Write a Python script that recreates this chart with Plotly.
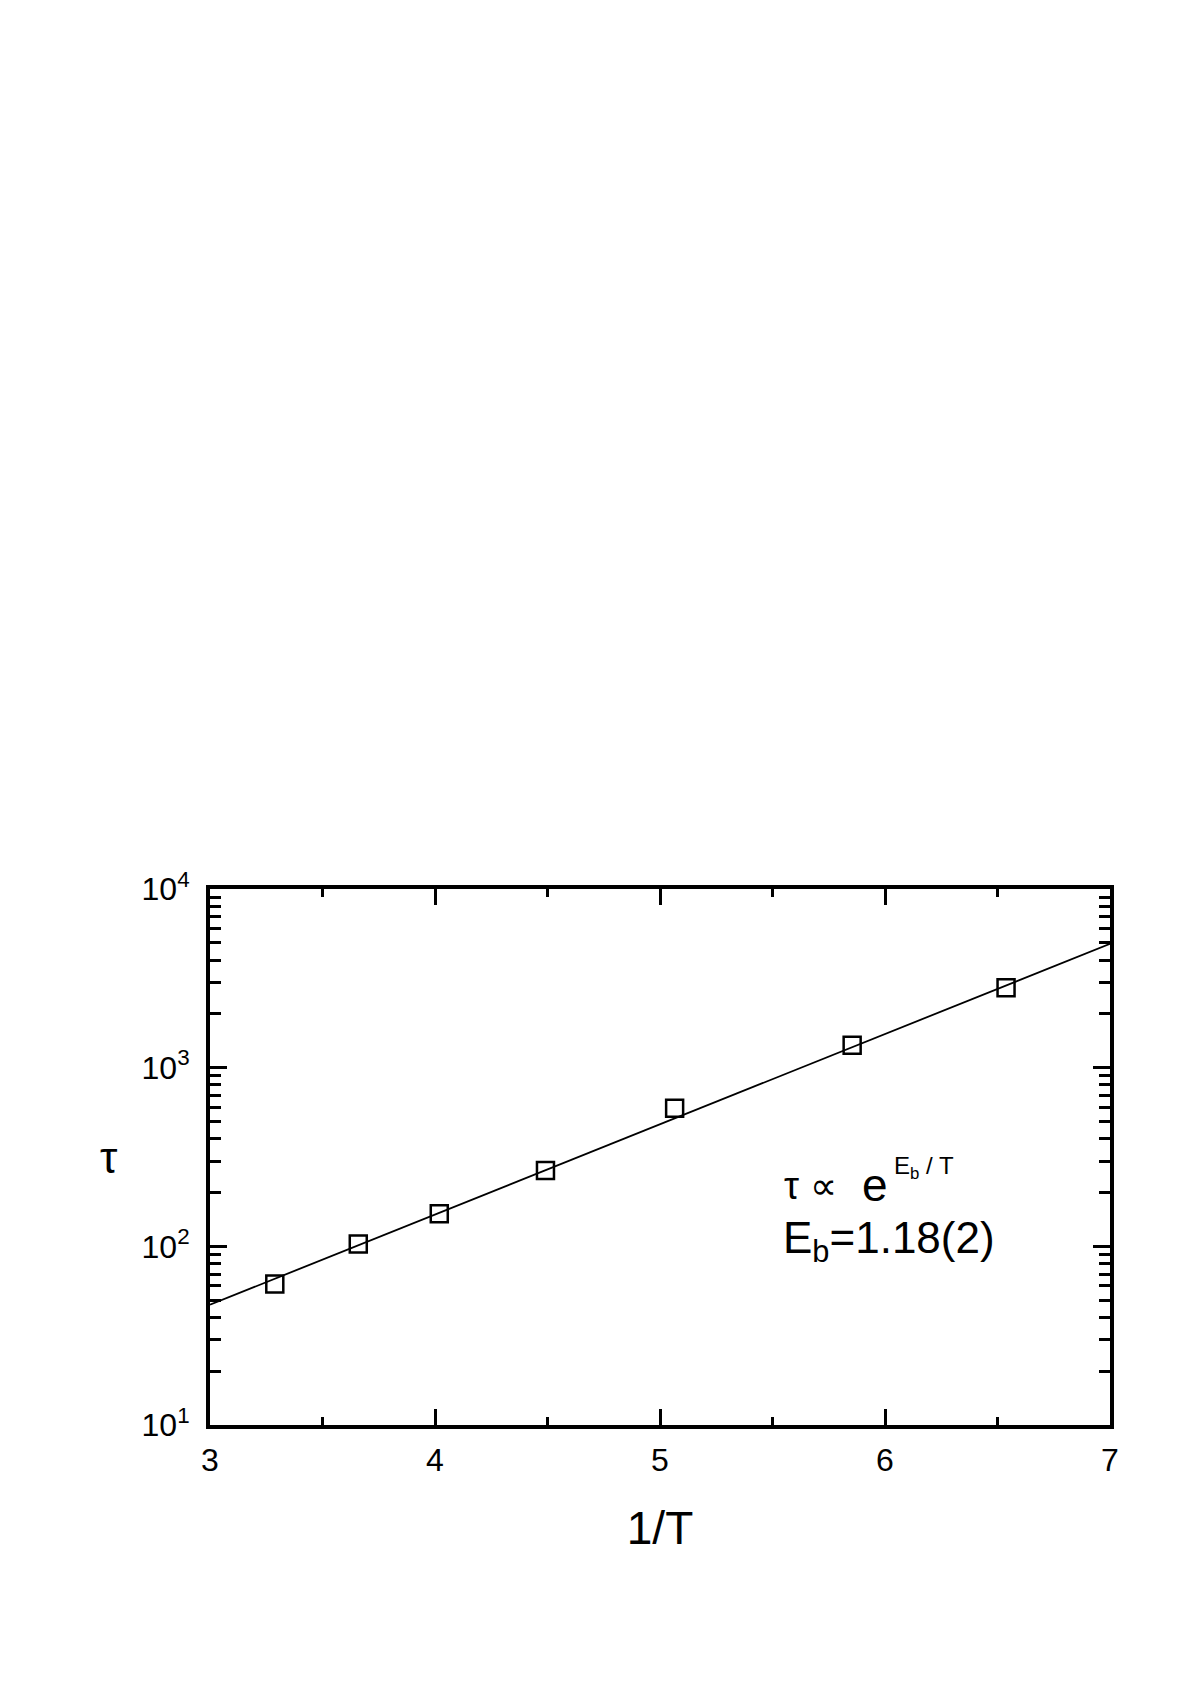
import plotly.graph_objects as go

# measured relaxation time vs inverse temperature
inv_T = [3.288, 3.659, 4.019, 4.491, 5.065, 5.854, 6.538]
tau = [61.5, 103, 152, 266, 593, 1337, 2805]

# fitted line tau ~ exp(Eb/T), endpoints
fit_inv_T = [3.0, 7.0]
fit_tau = [47.1, 4935]

y_tickvals = [10, 100, 1000, 10000]
y_ticktext = ["10<sup>1</sup>", "10<sup>2</sup>", "10<sup>3</sup>", "10<sup>4</sup>"]
x_tickvals = [3, 4, 5, 6, 7]

FONT = "Liberation Sans, Arial, sans-serif"

fig = go.Figure()
fig.add_trace(go.Scatter(x=fit_inv_T, y=fit_tau, mode="lines",
                         line=dict(color="black", width=1.8), showlegend=False))
fig.add_trace(go.Scatter(x=inv_T, y=tau, mode="markers",
                         marker=dict(symbol="square-open", size=17, color="black",
                                     line=dict(width=2.5, color="black")),
                         showlegend=False))

fig.update_layout(
    width=1204, height=1700,
    margin=dict(l=202, r=102, t=881, b=283),
    paper_bgcolor="white", plot_bgcolor="white",
    font=dict(family=FONT, color="black", size=32),
    xaxis=dict(range=[3, 7], tickvals=x_tickvals, ticks="inside", ticklen=16, tickwidth=3,
               tickcolor="black", showline=True, linewidth=4, linecolor="black",
               mirror="ticks", showgrid=False, zeroline=False,
               minor=dict(ticks="inside", ticklen=8, tickwidth=3, tickcolor="black", dtick=0.5),
               tickfont=dict(size=32), ticklabelstandoff=4,
               title=dict(text="1/T", font=dict(size=46), standoff=35)),
    yaxis=dict(type="log", range=[1, 4], tickvals=y_tickvals, ticktext=y_ticktext,
               ticks="inside", ticklen=17, tickwidth=3, tickcolor="black",
               showline=True, linewidth=4, linecolor="black", mirror="ticks",
               showgrid=False, zeroline=False,
               minor=dict(ticks="inside", ticklen=11, tickwidth=3, tickcolor="black",
                          dtick="D1"),
               tickfont=dict(size=32), ticklabelstandoff=10),
)

fig.add_annotation(text="τ", x=-0.125, y=0.5, xref="paper", yref="paper",
                   showarrow=False, font=dict(size=44))
fig.add_annotation(text="τ ∝", x=0.636, y=0.446, xref="paper", yref="paper",
                   xanchor="left", yanchor="middle", showarrow=False, font=dict(size=38))
fig.add_annotation(text="e", x=0.722, y=0.448, xref="paper", yref="paper",
                   xanchor="left", yanchor="middle", showarrow=False, font=dict(size=46))
fig.add_annotation(text="E<sub>b</sub> / T", x=0.758, y=0.48, xref="paper", yref="paper",
                   xanchor="left", yanchor="middle", showarrow=False, font=dict(size=24))
fig.add_annotation(text="E<sub>b</sub>=1.18(2)", x=0.634, y=0.343, xref="paper", yref="paper",
                   xanchor="left", yanchor="middle", showarrow=False, font=dict(size=44))

fig.write_html("out.html")
